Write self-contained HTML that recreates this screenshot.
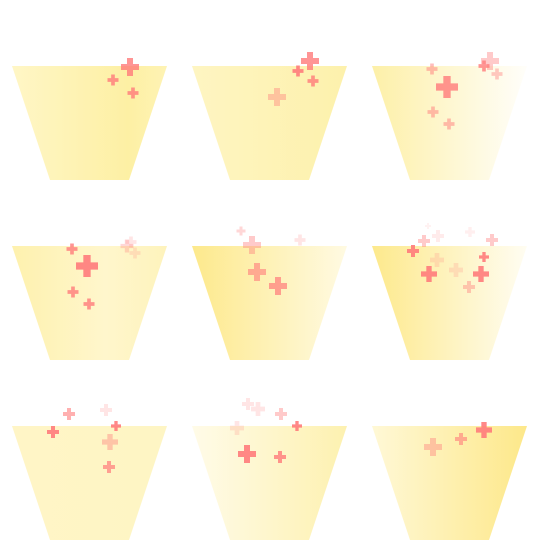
<!DOCTYPE html>
<html><head><meta charset="utf-8"><style>html,body{margin:0;padding:0;background:#fff}svg{display:block}</style></head>
<body>
<svg id="chart" width="541" height="541" viewBox="0 0 541 541" xmlns="http://www.w3.org/2000/svg">
<defs>
<linearGradient id="g0"><stop offset="0" stop-color="#fff6c6"/><stop offset="0.75" stop-color="#fdf0a4"/><stop offset="1" stop-color="#fef3b4"/></linearGradient>
<linearGradient id="g1"><stop offset="0" stop-color="#fef5c2"/><stop offset="1" stop-color="#fdf1ac"/></linearGradient>
<linearGradient id="g2"><stop offset="0" stop-color="#fdf0a8"/><stop offset="1" stop-color="#fffefa"/></linearGradient>
<linearGradient id="g3"><stop offset="0" stop-color="#fef1ae"/><stop offset="0.6" stop-color="#fff6cc"/><stop offset="1" stop-color="#fef3bc"/></linearGradient>
<linearGradient id="g4"><stop offset="0" stop-color="#fde98c"/><stop offset="1" stop-color="#fffae2"/></linearGradient>
<linearGradient id="g5"><stop offset="0" stop-color="#fde98c"/><stop offset="1" stop-color="#fffdf2"/></linearGradient>
<linearGradient id="g6"><stop offset="0" stop-color="#fff5c6"/><stop offset="1" stop-color="#fef5c4"/></linearGradient>
<linearGradient id="g7"><stop offset="0" stop-color="#fffbe8"/><stop offset="1" stop-color="#fdf1b0"/></linearGradient>
<linearGradient id="g8"><stop offset="0" stop-color="#fff8d6"/><stop offset="1" stop-color="#fde88a"/></linearGradient>
</defs>
</svg>
<script>
const panels=[0,1,2,3,4,5,6,7,8];
// plus markers per panel: [cx, cy, size, opacity] in panel-local coords (panel origin at trapezoid top-left area)
const markers0=[[130,67,18,0.8],[113,80,11,0.8],[133,93,11,0.8]];
const markers1=[[130,61,18,0.8],[118,71,11,0.9],[133,81,11,0.8],[97,97,18,0.4]];
const markers2=[[130,61,18,0.4],[124,66,11,0.8],[137,74,11,0.4],[72,69,11,0.5],[87,87,22,0.8],[73,112,11,0.5],[89,124,11,0.5]];
const markers3=[[72,69,11,0.8],[87,86,22,0.9],[73,112,11,0.8],[89,124,11,0.8],[127,66,13,0.3],[131,62,11,0.2],[135,73,11,0.2]];
const markers4=[[61,51,9,0.3],[72,65,18,0.4],[120,60,11,0.2],[77,92,18,0.6],[98,106,18,0.7]];
const markers5=[[53,71,12,0.9],[64,61,12,0.4],[78,56,12,0.15],[69,94,16,0.9],[77,80,14,0.2],[96,90,14,0.2],[109,107,12,0.4],[121,94,16,0.9],[124,77,10,0.9],[132,60,12,0.4],[110,52,10,0.12],[68,46,6,0.1]];
const markers6=[[53,72,12,0.9],[69,54,12,0.6],[106,50,12,0.2],[116,66,10,0.9],[110,82,16,0.4],[109,107,12,0.7]];
const markers7=[[68,44,12,0.2],[78,49,14,0.2],[101,54,12,0.4],[117,66,10,0.9],[57,68,14,0.2],[67,94,18,0.9],[100,97,12,0.8]];
const markers8=[[73,87,18,0.4],[101,79,12,0.6],[124,70,16,0.9]];
const allMarkers=[markers0,markers1,markers2,markers3,markers4,markers5,markers6,markers7,markers8];
const NS='http://www.w3.org/2000/svg';
const svg=document.getElementById('chart');
panels.forEach(function(p,i){
  const ox=(i%3)*180, oy=Math.floor(i/3)*180;
  const g=document.createElementNS(NS,'g');
  
  
  const t=document.createElementNS(NS,'polygon');
  t.setAttribute('points',(ox+12)+','+(oy+66)+' '+(ox+167)+','+(oy+66)+' '+(ox+129)+','+(oy+180)+' '+(ox+50)+','+(oy+180));
  t.setAttribute('fill','url(#g'+i+')');
  
  
  g.appendChild(t);
  allMarkers[i].forEach(function(m){
    const cx=ox+m[0], cy=oy+m[1], s=m[2], w=s/3;
    const path=document.createElementNS(NS,'path');
    const a=cx-s/2,b=cx-w/2,c=cx+w/2,d=cx+s/2,e=cy-s/2,f=cy-w/2,h=cy+w/2,k=cy+s/2;
    path.setAttribute('d','M'+b+' '+e+'H'+c+'V'+f+'H'+d+'V'+h+'H'+c+'V'+k+'H'+b+'V'+h+'H'+a+'V'+f+'H'+b+'Z');
    path.setAttribute('fill','#ff7b7b');
    path.setAttribute('fill-opacity',m[3]);
    
    
    g.appendChild(path);
  });
  svg.appendChild(g);
});
</script>
</body></html>
